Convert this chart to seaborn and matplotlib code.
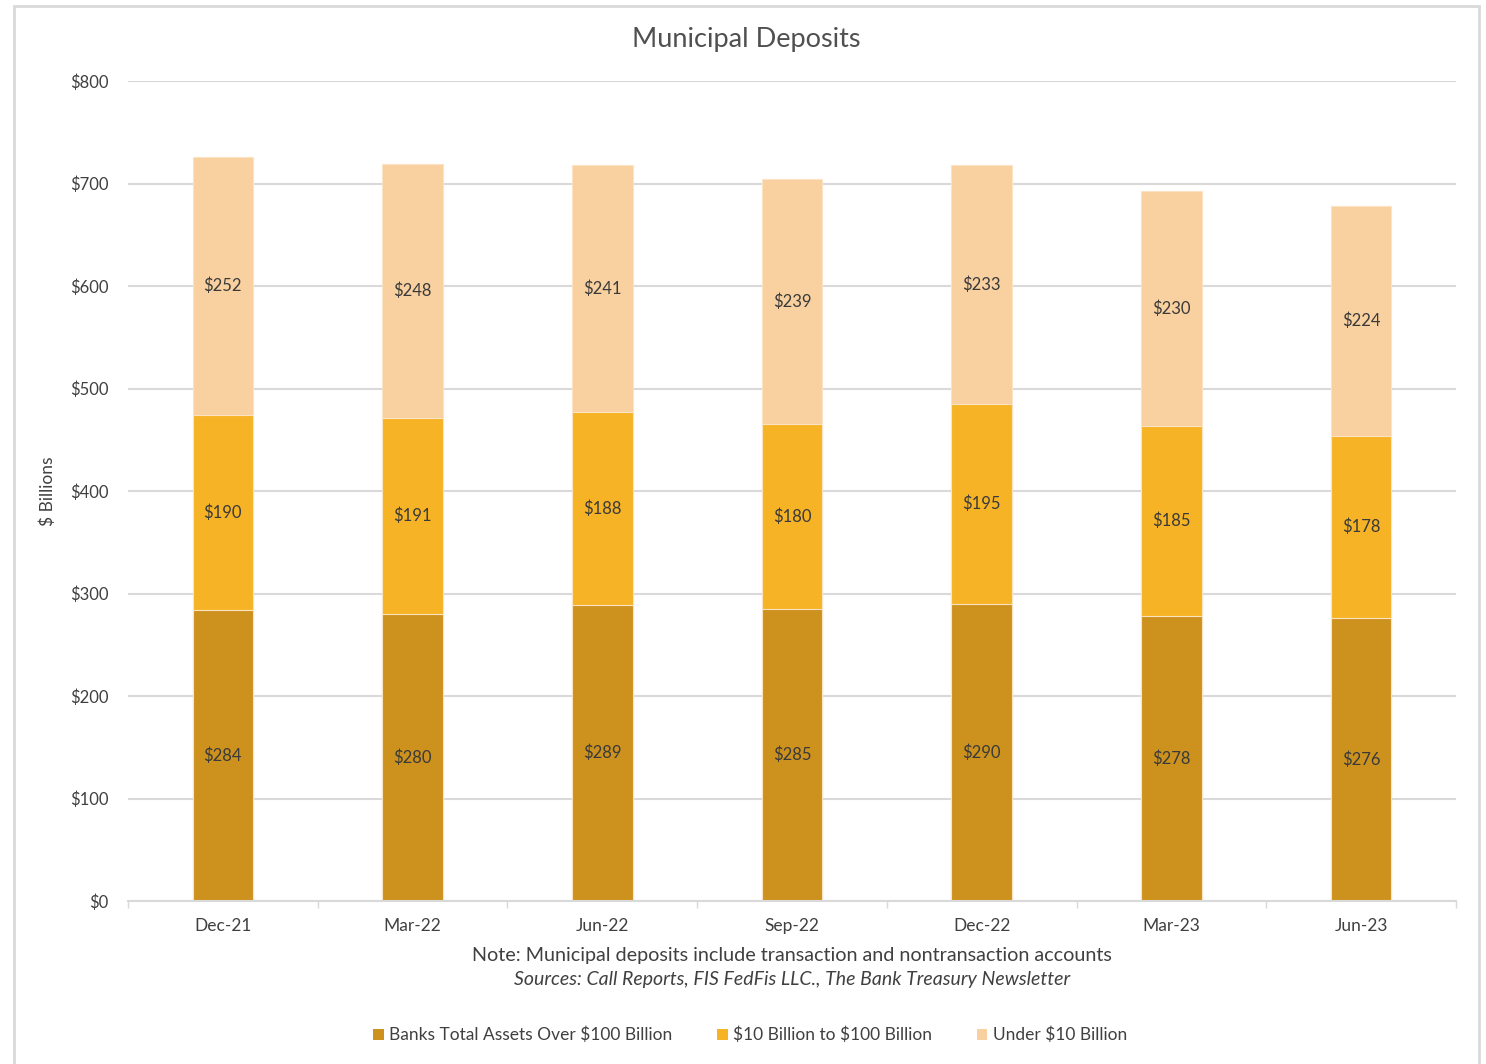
import matplotlib
matplotlib.use("Agg")
import matplotlib.pyplot as plt
from matplotlib.patches import Rectangle, Patch
import numpy as np
import pandas as pd
import seaborn as sns

# Municipal deposits by bank size ($ billions)
quarters = ["Dec-21", "Mar-22", "Jun-22", "Sep-22", "Dec-22", "Mar-23", "Jun-23"]
over_100b = [284, 280, 289, 285, 290, 278, 276]
from_10b_to_100b = [190, 191, 188, 180, 195, 185, 178]
under_10b = [252, 248, 241, 239, 233, 230, 224]

series_names = [r"Banks Total Assets Over \$100 Billion",
                r"\$10 Billion to \$100 Billion",
                r"Under \$10 Billion"]
colors = ["#CD921E", "#F5B325", "#F9D1A0"]
y_ticks = [0, 100, 200, 300, 400, 500, 600, 700, 800]

sns.set_theme(style="white")
plt.rcParams["font.family"] = ["Lato", "DejaVu Sans"]
text_color = "#404040"

fig = plt.figure(figsize=(14.86, 10.64), dpi=100)
ax = fig.add_axes([128 / 1486, 1 - 901 / 1064, (1456 - 128) / 1486, (901 - 81) / 1064])

df = pd.DataFrame({
    "quarter": quarters,
    "s1": over_100b,
    "s2": from_10b_to_100b,
    "s3": under_10b,
})
df["c1"] = df["s1"]
df["c2"] = df["s1"] + df["s2"]
df["c3"] = df["c2"] + df["s3"]

# Stacked bars: draw cumulative totals from the top layer down
for col, color in zip(["c3", "c2", "c1"], colors[::-1]):
    sns.barplot(data=df, x="quarter", y=col, color=color, width=0.32,
                edgecolor="#FBE3C4", linewidth=0.8, saturation=1, ax=ax)

# Segment value labels, centred in each segment
for i in range(len(quarters)):
    bottoms = [0, df["c1"][i], df["c2"][i]]
    vals = [df["s1"][i], df["s2"][i], df["s3"][i]]
    for b, v in zip(bottoms, vals):
        ax.text(i, b + v / 2, f"${v}", ha="center", va="center",
                fontsize=12, color="#3A3A3A")

ax.set_ylim(0, 800)
ax.set_xlim(-0.5, len(quarters) - 0.5)
ax.set_yticks(y_ticks)
ax.set_yticklabels([f"${t}" for t in y_ticks], fontsize=12, color=text_color)
ax.tick_params(axis="y", length=0, pad=14)
ax.set_xticks(range(len(quarters)))
ax.set_xticklabels(quarters, fontsize=12.5, color=text_color)
ax.tick_params(axis="x", which="major", length=0, pad=12)
ax.set_xticks(np.arange(-0.5, len(quarters), 1.0), minor=True)
ax.tick_params(axis="x", which="minor", length=5, width=1, color="#D9D9D9", direction="out", bottom=True)

ax.yaxis.grid(True, color="#D9D9D9", linewidth=1.5)
ax.xaxis.grid(False)
ax.set_axisbelow(True)
for side in ["top", "right", "left"]:
    ax.spines[side].set_visible(False)
ax.spines["bottom"].set_color("#D9D9D9")
ax.spines["bottom"].set_linewidth(1.5)

ax.set_xlabel("")
ax.set_ylabel("$ Billions", fontsize=12.5, color=text_color, labelpad=10)

fig.text(746 / 1486, 1 - 40 / 1064, "Municipal Deposits", ha="center", va="center",
         fontsize=19.5, color="#505050")
fig.text(792 / 1486, 1 - 955 / 1064,
         "Note: Municipal deposits include transaction and nontransaction accounts",
         ha="center", va="center", fontsize=14.2, color=text_color)
fig.text(792 / 1486, 1 - 980 / 1064,
         "Sources: Call Reports, FIS FedFis LLC., The Bank Treasury Newsletter",
         ha="center", va="center", fontsize=14, style="italic", color=text_color)

handles = [Patch(facecolor=c, edgecolor="none") for c in colors]
fig.legend(handles, series_names, loc="center", bbox_to_anchor=(750 / 1486, 1 - 1035 / 1064),
           ncol=3, frameon=False, fontsize=12.5, handlelength=0.6, handleheight=0.6,
           handletextpad=0.3, columnspacing=2.6, labelcolor=text_color)

# Chart border
fig.add_artist(Rectangle((14 / 1486, -0.01), (1479 - 14) / 1486, 1 - 6 / 1064 + 0.01,
                         transform=fig.transFigure, fill=False, edgecolor="#D9D9D9",
                         linewidth=2, clip_on=False))

fig.savefig("out.png", dpi=100)
